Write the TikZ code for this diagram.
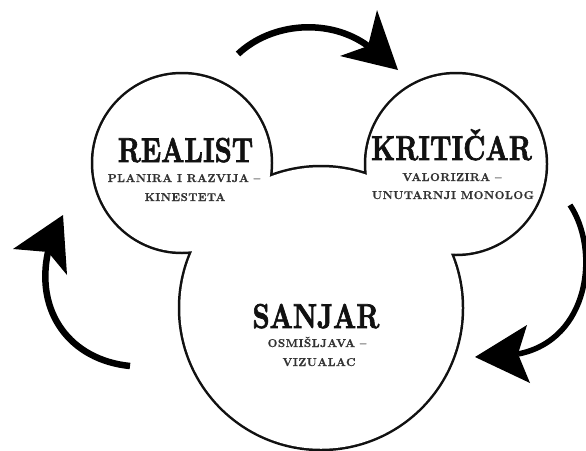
\documentclass[tikz,border=0pt]{standalone}
\usepackage{fontspec}
\newfontfamily\titlefont{lmroman10-bold.otf}[FakeBold=2.2]
\newfontfamily\subfont{lmroman10-bold.otf}[FakeBold=0.6, LetterSpace=4]
\usetikzlibrary{calc}
\definecolor{ink}{HTML}{111111}
\definecolor{subink}{HTML}{333333}
\newcommand{\bigtitle}[1]{\scalebox{2.68}[3.45]{\fontsize{10}{12}\titlefont #1}}
\tikzset{
  ring/.style={circle, draw=ink, line width=5pt, inner sep=0pt},
  disc/.style={circle, fill=white, inner sep=0pt},
  titletext/.style={anchor=base, inner sep=0pt, text=ink},
  subtext/.style={anchor=base, inner sep=0pt, text=subink, font=\fontsize{11.4}{14}\subfont},
  shaft/.style={draw=black, line width=6.5pt},
  head/.style={fill=black},
}
\begin{document}
\begin{tikzpicture}[x=1pt,y=-1pt]
\useasboundingbox (0,0) rectangle (586,450);
% outline rings (doubled width, inner half hidden by discs)
\node[ring, minimum size=177.5pt] (realistO) at (182,163) {};
\node[ring, minimum size=179.5pt] (kriticarO) at (456,164) {};
\node[ring, minimum size=281.5pt] (sanjarO) at (321,308) {};
\node[disc, minimum size=177.5pt] (realist) at (182,163) {};
\node[disc, minimum size=179.5pt] (kriticar) at (456,164) {};
\node[disc, minimum size=281.5pt] (sanjar) at (321,308) {};
% texts
\node[titletext] (t1) at (185.5,162) {\bigtitle{REALIST}};
\node[subtext] (s1a) at (184,182) {PLANIRA I RAZVIJA –};
\node[subtext] (s1b) at (185,201) {KINESTETA};
\node[titletext] (t2) at (451.5,160) {\bigtitle{KRITIČAR}};
\node[subtext] (s2a) at (452,181) {VALORIZIRA –};
\node[subtext] (s2b) at (453,199) {UNUTARNJI MONOLOG};
\node[titletext] (t3) at (316,328) {\bigtitle{SANJAR}};
\node[subtext] (s3a) at (317,347) {OSMIŠLJAVA –};
\node[subtext] (s3b) at (319,366) {VIZUALAC};
% arrows
\coordinate (a1s) at (238,54);
\coordinate (a1n) at (368,46);
\coordinate (a1t) at (398,70);
\coordinate (a1b) at (377,10);
\coordinate (a1c) at (340,56);
\draw[shaft] (a1s) .. controls (272,22) and (330,18) .. (a1n);
\fill[head] (a1t) -- (a1b) -- (a1n) -- (a1c) -- cycle;

\coordinate (a2s) at (130,366);
\coordinate (a2n) at (48,252);
\coordinate (a2t) at (63,215);
\coordinate (a2b) at (13,249);
\coordinate (a2c) at (67,275);
\draw[shaft] (a2s) .. controls (70,360) and (35,312) .. (a2n);
\fill[head] (a2t) -- (a2b) -- (a2n) -- (a2c) -- cycle;

\coordinate (a3s) at (570,205);
\coordinate (a3n) at (518,354);
\coordinate (a3t) at (475,357);
\coordinate (a3b) at (527,325);
\coordinate (a3c) at (530,383);
\draw[shaft, line width=5.5pt] (a3s) .. controls (600,250) and (590,340) .. (a3n);
\fill[head] (a3t) -- (a3b) -- (a3n) -- (a3c) -- cycle;
\end{tikzpicture}
\end{document}
